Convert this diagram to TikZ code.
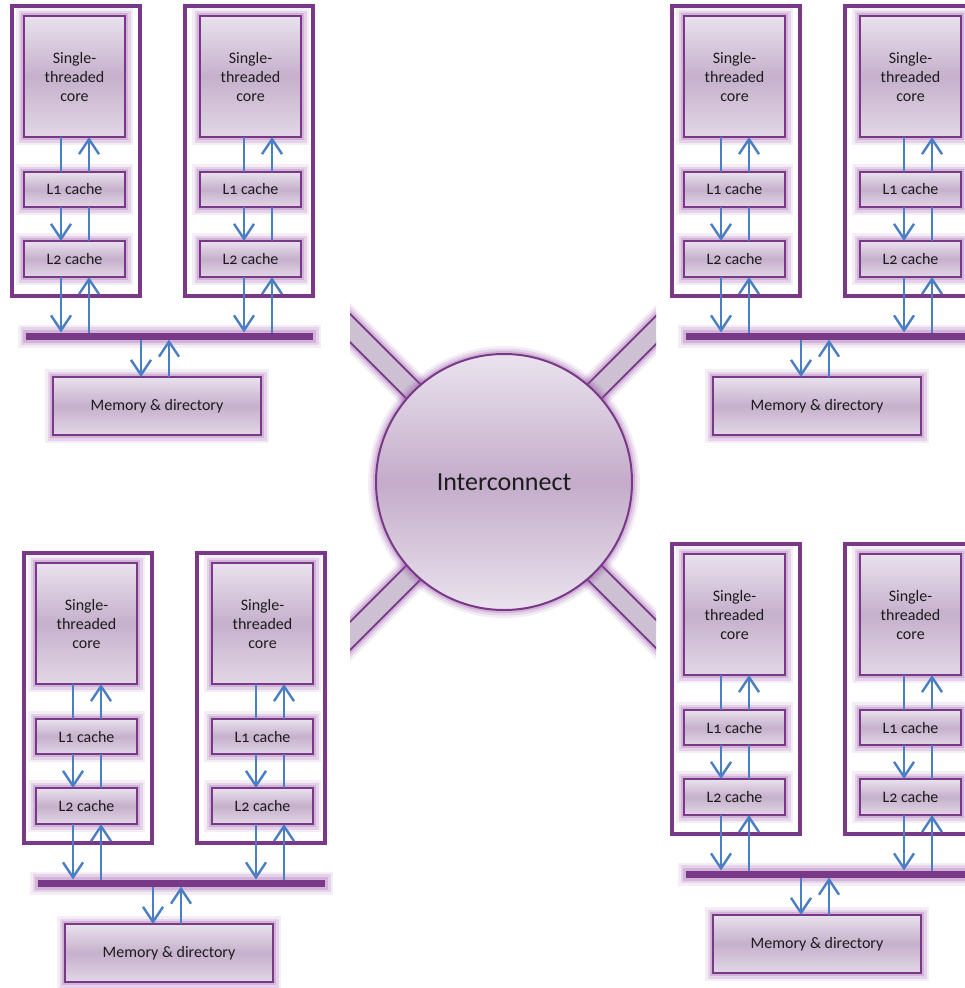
\documentclass[tikz,border=0pt]{standalone}
\usepackage{fontspec}
\setmainfont{Carlito}[Numbers=OldStyle]
\usetikzlibrary{arrows.meta}

\definecolor{edge}{RGB}{122,56,136}
\definecolor{glowc}{RGB}{150,80,165}
\definecolor{fillTop}{RGB}{233,225,237}
\definecolor{fillMid}{RGB}{198,176,204}
\definecolor{fillBot}{RGB}{226,215,230}
\definecolor{hubTop}{RGB}{234,227,238}
\definecolor{hubMid}{RGB}{196,172,202}
\definecolor{link}{RGB}{74,126,194}
\definecolor{pipefill}{RGB}{204,192,210}
\definecolor{txt}{RGB}{28,28,28}

\tikzset{
  glow/.style={
    preaction={draw=glowc, line width=16pt, draw opacity=0.10},
    preaction={draw=glowc, line width=11pt, draw opacity=0.16},
    preaction={draw=glowc, line width=6pt, draw opacity=0.24}},
  blockbox/.style={glow, draw=edge, line width=2.6pt,
    top color=fillTop, bottom color=fillBot, middle color=fillMid,
    text=txt, font=\fontsize{16}{19}\selectfont, align=center,
    inner sep=0pt, outer sep=0pt, anchor=north west},
  enclosure/.style={draw=edge, line width=3.5pt, fill=white,
    inner sep=0pt, outer sep=0pt, anchor=north west,
    minimum width=128pt, minimum height=290pt},
  busbar/.style={glow, fill=edge, inner sep=0pt, outer sep=0pt,
    minimum height=7pt},
  wire/.style={draw=link, line width=2.4pt},
  arr/.style={wire, -{Straight Barb[length=15pt, width=20pt]}},
  pipe/.style={glow, fill=pipefill, draw=edge, line width=1.8pt},
  hub/.style={glow, circle, draw=edge, line width=2pt, minimum size=256pt,
    top color=hubTop, bottom color=hubTop, middle color=hubMid,
    text=txt, font=\fontsize{26}{30}\selectfont, inner sep=0pt}
}

% one processor column: #1 cluster, #2 column, #3 enclosure left,
% #4 block left, #5/#6 x of the two links
\newcommand{\cpucolumn}[6]{%
  \node[enclosure] (#1#2-box) at (#3,6) {};
  \node[blockbox, minimum width=101pt, minimum height=121pt] (#1#2-core) at (#4,16) {Single-\\threaded\\core};
  \node[blockbox, minimum width=101pt, minimum height=35pt] (#1#2-l1) at (#4,172) {L1 cache};
  \node[blockbox, minimum width=101pt, minimum height=36pt] (#1#2-l2) at (#4,241) {L2 cache};
  \coordinate (#1#2-p) at (#5,0);
  \coordinate (#1#2-q) at (#6,0);
  \draw[wire] (#1#2-core.south -| #1#2-p) -- (#1#2-l1.north -| #1#2-p);
  \draw[arr] (#1#2-l1.north -| #1#2-q) -- (#1#2-core.south -| #1#2-q);
  \draw[arr] (#1#2-l1.south -| #1#2-p) -- (#1#2-l2.north -| #1#2-p);
  \draw[wire] (#1#2-l1.south -| #1#2-q) -- (#1#2-l2.north -| #1#2-q);
  \draw[arr] (#1#2-l2.south -| #1#2-p) -- (#1-bus.north -| #1#2-p);
  \draw[arr] (#1-bus.north -| #1#2-q) -- (#1#2-l2.south -| #1#2-q);
}

% one node of the machine: #1 name, #2/#3 shift
\newcommand{\cluster}[3]{%
  \begin{scope}[shift={(#2,#3)}]
    \node[busbar, minimum width=287pt] (#1-bus) at (169.5,336) {};
    \cpucolumn{#1}{a}{12}{24}{61}{89}
    \cpucolumn{#1}{b}{185}{200}{244}{272}
    \node[blockbox, minimum width=208pt, minimum height=58pt] (#1-mem) at (53,377) {Memory \& directory};
    \coordinate (#1-m1) at (141,0);
    \coordinate (#1-m2) at (169,0);
    \draw[arr] (#1-bus.south -| #1-m1) -- (#1-mem.north -| #1-m1);
    \draw[arr] (#1-mem.north -| #1-m2) -- (#1-bus.south -| #1-m2);
  \end{scope}}

\begin{document}
\begin{tikzpicture}[x=1pt, y=-1pt]
  \useasboundingbox (0,0) rectangle (965,988);

  % links of the interconnect, cut off at the sides
  \begin{scope}
    \clip (350,0) rectangle (656,988);
    \foreach \sx/\sy in {1/1, 1/-1, -1/1, -1/-1} {
      \draw[pipe] ({504+7.07*\sy},{482-7.07*\sx})
        -- ({504+240*\sx+7.07*\sy},{482+240*\sy-7.07*\sx})
        -- ({504+240*\sx-7.07*\sy},{482+240*\sy+7.07*\sx})
        -- ({504-7.07*\sy},{482+7.07*\sx}) -- cycle;
    }
  \end{scope}
  \node[hub] (ic) at (504,482) {Interconnect};

  \cluster{tl}{0}{0}
  \cluster{tr}{660}{0}
  \cluster{bl}{12}{547}
  \cluster{br}{660}{538}
\end{tikzpicture}
\end{document}
